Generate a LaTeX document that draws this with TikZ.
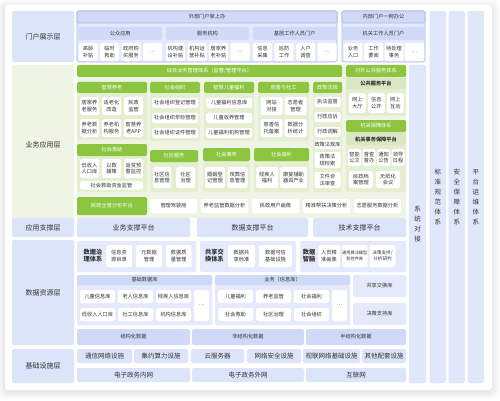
\documentclass[tikz,border=0pt]{standalone}
\usepackage{fontspec}
\setmainfont{Noto Sans CJK SC}
\usetikzlibrary{positioning}

\definecolor{txt}{HTML}{333333}
\definecolor{lyr}{HTML}{DCE4FA}
\definecolor{pan}{HTML}{E4EAFB}
\definecolor{hdb}{HTML}{D0DAF8}
\definecolor{bord}{HTML}{A3B6EF}
\definecolor{grn}{HTML}{8CC540}
\definecolor{gpan}{HTML}{E4EED0}
\definecolor{gbg}{HTML}{EFF5E4}
\definecolor{gsub}{HTML}{DAE7C4}
\definecolor{vcol}{HTML}{E1E7FB}

\tikzset{every picture/.style={line width=0.6pt}}
\tikzset{
  box/.style={inner sep=0pt, outer sep=0pt, anchor=north west, align=center, text=txt, font=\fontsize{5.2}{6.6}\selectfont},
  layer/.style={box, fill=lyr, rounded corners=2pt, font=\fontsize{7}{8}\selectfont},
  bpanel/.style={box, fill=pan, rounded corners=1.5pt},
  bhead/.style={box, fill=hdb, rounded corners=1.5pt},
  itm/.style={box, fill=white, rounded corners=1.5pt},
  ghead/.style={box, fill=grn, text=white, rounded corners=1.5pt},
  gpanel/.style={box, fill=gpan, rounded corners=1.5pt},
  gsubhd/.style={box, fill=gsub, rounded corners=1pt, font=\bfseries\fontsize{5.2}{6.6}\selectfont},
  big/.style={font=\fontsize{7}{8}\selectfont},
  mid/.style={font=\fontsize{6.5}{8}\selectfont},
  tag/.style={inner sep=0pt, align=center, text=txt, font=\bfseries\fontsize{6.2}{7.6}\selectfont},
  vbar/.style={box, fill=vcol, rounded corners=2pt, font=\fontsize{6.5}{10}\selectfont},
}
\newcommand{\bx}[7]{\node[#6, minimum width=#4pt, minimum height=#5pt] (#1) at ({#2},{#3}) {#7};}

\begin{document}
\begin{tikzpicture}[x=1pt,y=1pt,yscale=-1,xscale=1]
	\useasboundingbox (0,0) rectangle (500,401);
	\fill[white] (0,0) rectangle (500,401);
	\foreach \k in {1,...,7} \fill[black!70, opacity=0.016, rounded corners=6pt] (5-\k,7-\k) rectangle (492+\k,392+\k);
	\fill[white, rounded corners=3pt] (5,5) rectangle (492,390);

	% portal layer
	\bx{L1}{12}{11}{62}{51}{layer}{门户展示层}
	\bx{ext}{77}{11}{260}{51}{bpanel,draw=bord}{}
	\bx{exthd}{77}{11}{260}{12}{bhead,draw=bord}{外部门户掌上办}
	\bx{pub}{78.5}{27}{83.5}{13}{bhead}{公众应用}
	\bx{org}{166}{27}{83}{13}{bhead}{服务机构}
	\bx{base}{253}{27}{83.5}{13}{bhead}{基层工作人员门户}
	\foreach \t [count=\i] in {{高龄\\补贴},{临时\\救助},{政府购\\买服务},{…}}
		{\bx{pa\i}{78.5+21.5*(\i-1)}{43}{19}{18}{itm}{\t}}
	\foreach \t [count=\i] in {{机构建\\设补贴},{机构运\\营补贴},{居家养\\老补贴},{…}}
		{\bx{pb\i}{166+21.5*(\i-1)}{43}{19}{18}{itm}{\t}}
	\foreach \t [count=\i] in {{信息\\采集},{巡防\\工作},{入户\\调查},{…}}
		{\bx{pc\i}{253+21.5*(\i-1)}{43}{19}{18}{itm}{\t}}
	\bx{int}{342}{11}{83}{51}{bpanel,draw=bord}{}
	\bx{inthd}{342}{11}{83}{12}{bhead,draw=bord}{内部门户一网办公}
	\bx{off}{342.5}{27}{82}{13}{bhead}{机关工作人员门户}
	\foreach \t [count=\i] in {{业务\\入口},{工作\\要闻},{待处理\\事务},{…}}
		{\bx{pd\i}{343.5+20.5*(\i-1)}{43}{19}{18}{itm}{\t}}

	% business layer
	\bx{L2}{12}{65}{62}{160}{layer,fill=gbg}{业务应用层}
	\bx{bizbg}{77}{65}{329}{153}{box,fill=gbg}{}
	\bx{mgmt}{77}{65}{265}{12}{ghead}{综合业务管理体系（监管/管理平台）}

	\bx{eld}{77}{82}{70}{58}{gpanel}{}
	\bx{eldhd}{77}{82}{70}{11}{ghead}{智慧养老}
	\foreach \t [count=\i] in {{居家养\\老服务},{适老化\\改造},{民政\\监管}}
		{\bx{ea\i}{80+22*(\i-1)}{97}{19}{18}{itm}{\t}}
	\foreach \t [count=\i] in {{养老数\\据分析},{养老机\\构服务},{智慧养\\老APP}}
		{\bx{eb\i}{80+22*(\i-1)}{119}{19}{18}{itm}{\t}}

	\bx{soc}{150}{82}{50}{59}{gpanel}{}
	\bx{sochd}{150}{82}{50}{11}{ghead}{社会组织}
	\foreach \t [count=\i] in {社会组织登记管理,社会组织年检管理,社会组织证件管理}
		{\bx{so\i}{152}{98+15*(\i-1)}{46}{10}{itm}{\t}}

	\bx{chd}{204}{82}{50}{59}{gpanel}{}
	\bx{chdhd}{204}{82}{50}{11}{ghead}{智慧儿童福利}
	\foreach \t [count=\i] in {儿童福利信息库,儿童收养管理,儿童福利机构管理}
		{\bx{ch\i}{206}{98+15*(\i-1)}{46}{10}{itm}{\t}}

	\bx{cha}{258}{82}{51}{59}{gpanel}{}
	\bx{chahd}{258}{82}{51}{11}{ghead}{慈善与社工}
	\bx{ca1}{260.5}{97}{22}{18}{itm}{网站\\对接}
	\bx{ca2}{284.5}{97}{22}{18}{itm}{志愿者\\管理}
	\bx{ca3}{260.5}{119}{22}{18}{itm}{慈善信\\托备案}
	\bx{ca4}{284.5}{119}{22}{18}{itm}{数据分\\析统计}

	\bx{law}{313}{82}{29}{110}{gpanel}{}
	\bx{lawhd}{313}{82}{29}{11}{ghead}{政策法规}
	\foreach \t [count=\i] in {执法监督,行政应诉,行政调解}
		{\bx{lw\i}{314.5}{97+15*(\i-1)}{26}{10}{itm}{\t}}
	\bx{lw4}{314.5}{140}{26}{9}{itm}{政策法规库}
	\bx{lw5}{314.5}{152}{26}{16}{itm}{政策法\\规检索}
	\bx{lw6}{314.5}{172}{26}{16}{itm}{文件合\\法审查}

	\bx{aid}{77}{144}{70}{48}{gpanel}{}
	\bx{aidhd}{77}{144}{70}{12}{ghead}{社会救助}
	\foreach \t [count=\i] in {{低收入\\人口库},{以数\\辅策},{返贫预\\警监控}}
		{\bx{ai\i}{80+22*(\i-1)}{159}{19}{19}{itm}{\t}}
	\bx{ai4}{80}{181}{63}{8.5}{itm}{社会救助资金监管}

	\bx{com}{150}{150}{48}{42}{gpanel}{}
	\bx{comhd}{150}{150}{48}{12}{ghead}{社区服务}
	\bx{co1}{153}{167}{18}{21}{itm}{社区信\\息管理}
	\bx{co2}{176}{167}{19}{21}{itm}{社区\\治理}

	\bx{aff}{203}{148}{47}{44}{gpanel}{}
	\bx{affhd}{203}{148}{47}{13}{ghead}{社会事务}
	\bx{af1}{205}{167}{20}{21}{itm}{婚姻登\\记管理}
	\bx{af2}{227.5}{167}{20}{21}{itm}{殡葬信\\息管理}

	\bx{wel}{254}{148}{55}{44}{gpanel}{}
	\bx{welhd}{254}{148}{55}{13}{ghead}{社会福利}
	\bx{we1}{256}{167}{22}{21}{itm}{残疾人\\福利}
	\bx{we2}{280}{167}{27}{21}{itm}{康复辅助\\器具产业}

	\bx{pubs}{346}{65}{60}{51}{gpanel}{}
	\bx{pubshd}{346}{65}{60}{12}{ghead}{对外公共服务体系}
	\bx{pubsub}{346}{78}{60}{11}{gsubhd}{公共服务平台}
	\foreach \t [count=\i] in {{网上\\大厅},{信息\\公开},{网上\\互动}}
		{\bx{ps\i}{349+19*(\i-1)}{93}{16.5}{20}{itm}{\t}}

	\bx{gua}{346}{120}{60}{72}{gpanel}{}
	\bx{guahd}{346}{120}{60}{12}{ghead}{机关保障体系}
	\bx{guasub}{346}{133}{60}{12}{gsubhd}{机关事务保障平台}
	\foreach \t [count=\i] in {{智能\\公文},{督查\\督办},{通知\\公告},{领导\\日程}}
		{\bx{gu\i}{348+14.5*(\i-1)}{149}{13}{17}{itm}{\t}}
	\bx{gu5}{349}{171}{24}{17}{itm}{民政档\\案管理}
	\bx{gu6}{376}{171}{24}{17}{itm}{无纸化\\会议}

	\bx{pano}{77}{197}{70}{18}{ghead}{民政全景分析平台}
	\foreach \t [count=\i] in {管理驾驶舱,养老监管数据分析,民政用户画像,精准帮扶决策分析,志愿服务数据分析}
		{\bx{an\i}{150+51*(\i-1)}{199}{47}{14}{itm}{\t}}

	% support layer
	\bx{L3}{12}{218}{62}{19}{layer}{应用支撑层}
	\bx{sp1}{77}{218}{113}{19}{layer}{业务支撑平台}
	\bx{sp2}{197}{218}{111}{19}{layer}{数据支撑平台}
	\bx{sp3}{313}{218}{93}{19}{layer}{技术支撑平台}

	% data layer
	\bx{L4}{12}{240}{62}{105}{layer}{数据资源层}
	\bx{gov}{77}{241}{119}{31}{bpanel}{}
	\node[tag] (govtag) at (93,255.5) {数据治\\理体系};
	\bx{gv1}{106}{245}{26}{22}{itm}{信息资\\源目录}
	\bx{gv2}{136}{245}{26}{22}{itm}{元数据\\管理}
	\bx{gv3}{166}{245}{25.5}{22}{itm}{数据质\\量管理}
	\bx{shr}{200}{241}{96}{31}{bpanel}{}
	\node[tag] (shrtag) at (214.5,255.5) {共享交\\换体系};
	\bx{sh1}{228}{245}{27}{22}{itm}{数据共\\享标准}
	\bx{sh2}{259}{245}{33}{22}{itm}{数据可信\\基础设施}
	\bx{brn}{300}{241}{106}{31}{bpanel}{}
	\node[tag] (brntag) at (309,255.5) {数据\\智脑};
	\bx{br1}{318}{245}{22}{22}{itm}{人员精\\准画像}
	\bx{br2}{342}{245}{25.5}{22}{itm,font=\fontsize{4.2}{6.2}\selectfont}{通用算法模型\\和控件库}
	\bx{br3}{369.5}{245}{26}{22}{itm,font=\fontsize{4.6}{6.2}\selectfont}{决策支持/\\分析研判}

	\bx{bdb}{77}{275}{135}{50}{bpanel}{}
	\bx{bdbhd}{77}{275}{135}{10}{bhead}{基础数据库}
	\foreach \t [count=\i] in {儿童信息库,老人信息库,残疾人信息库}
		{\bx{ba\i}{80+38*(\i-1)}{290}{35}{13}{itm}{\t}}
	\foreach \t [count=\i] in {低收入人口库,社工信息库,机构信息库}
		{\bx{bb\i}{80+38*(\i-1)}{308}{35}{13}{itm}{\t}}
	\bx{bdot}{194}{290}{15}{31}{itm}{…}
	\bx{ydb}{215}{275}{135}{50}{bpanel}{}
	\bx{ydbhd}{215}{275}{135}{10}{bhead}{业务（信息库）}
	\foreach \t [count=\i] in {儿童福利,养老监管,社会福利}
		{\bx{ya\i}{218+38*(\i-1)}{290}{35}{13}{itm}{\t}}
	\foreach \t [count=\i] in {社会救助,社区治理,社会组织}
		{\bx{yb\i}{218+38*(\i-1)}{308}{35}{13}{itm}{\t}}
	\bx{ydot}{332}{290}{15}{31}{itm}{…}
	\bx{xdb}{353}{275}{53}{22}{bpanel}{共享交换库}
	\bx{jdb}{353}{303}{53}{22}{bpanel}{决策支持库}

	\bx{st1}{77}{329}{113}{16}{bhead}{结构化数据}
	\bx{st2}{192}{329}{112}{16}{bhead}{非结构化数据}
	\bx{st3}{306}{329}{100}{16}{bhead}{半结构化数据}

	% infrastructure layer
	\bx{L5}{12}{349}{62}{34}{layer}{基础设施层}
	\bx{in1}{77}{349}{55}{14}{layer,mid}{通信网络设施}
	\bx{in2}{134}{349}{54}{14}{layer,mid}{集约算力设施}
	\bx{in3}{191}{349}{53}{14}{layer,mid}{云服务器}
	\bx{in4}{247}{349}{54}{14}{layer,mid}{网络安全设施}
	\bx{in5}{303}{349}{57}{14}{layer,mid}{视联网络基础设施}
	\bx{in6}{362}{349}{44}{14}{layer,mid}{其他配套设施}
	\bx{nw1}{77}{368}{113}{14}{layer,mid}{电子政务内网}
	\bx{nw2}{192}{368}{112}{14}{layer,mid}{电子政务外网}
	\bx{nw3}{306}{368}{100}{14}{layer,mid}{互联网}

	% side bars
	\bx{sys}{409}{65}{17}{318}{vbar}{系\\统\\对\\接}
	\bx{std}{429.5}{11}{16.5}{372}{vbar}{标\\准\\规\\范\\体\\系}
	\bx{sec}{448.5}{11}{16.5}{372}{vbar}{安\\全\\保\\障\\体\\系}
	\bx{ops}{467.5}{11}{16.5}{372}{vbar}{平\\台\\运\\维\\体\\系}
\end{tikzpicture}
\end{document}
